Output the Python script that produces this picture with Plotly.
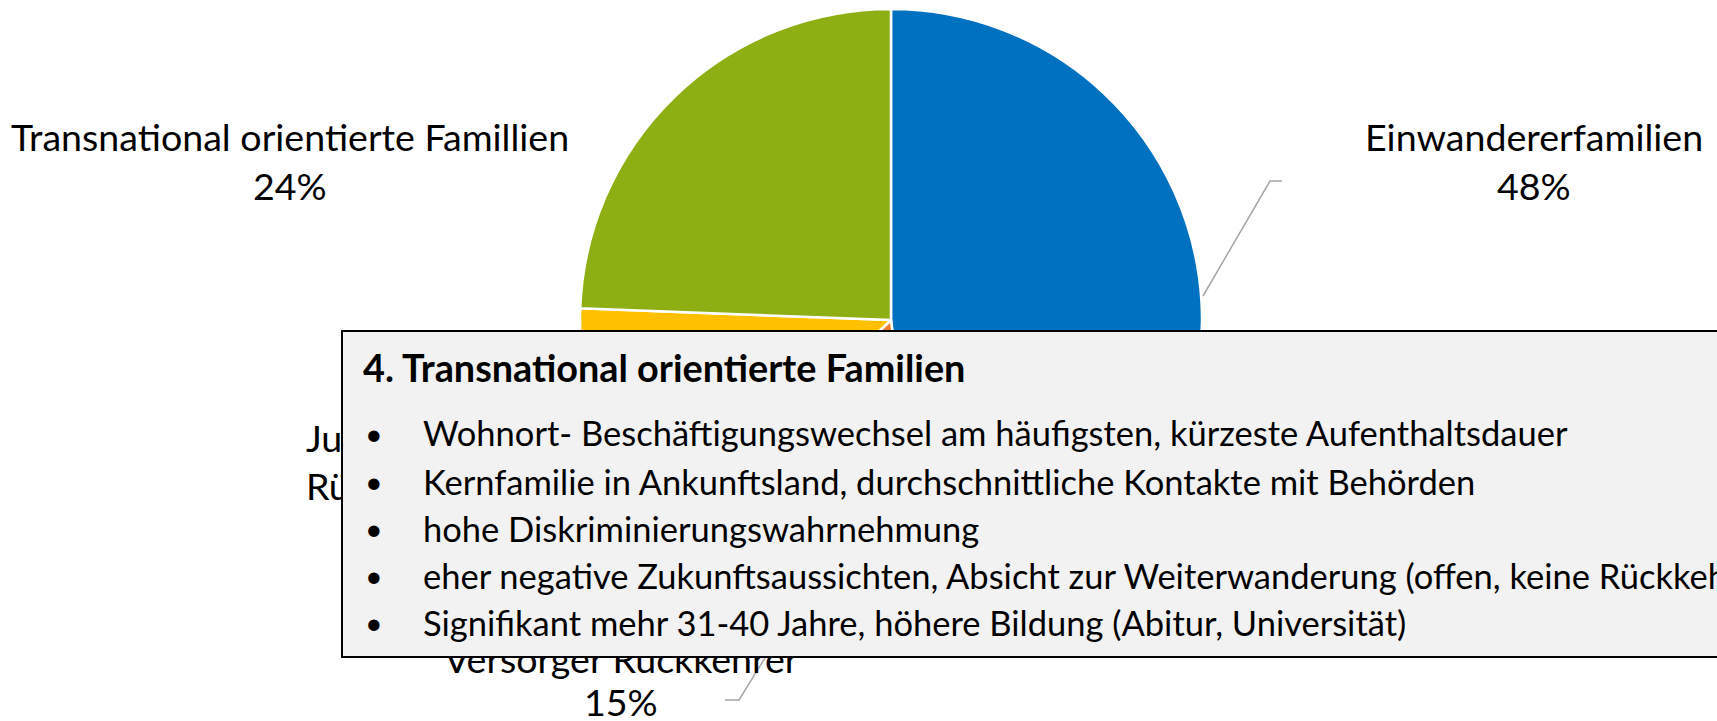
import plotly.graph_objects as go

# ---- data ----
categories = ["Einwandererfamilien", "Versorger Rückkehrer", "Junge Rückkehrer", "Transnational orientierte Famillien"]
values = [48.0, 15.0, 12.6, 24.4]
colors = ["#0070C0", "#ED7D31", "#FFC000", "#8DAF13"]

box_title = "4. Transnational orientierte Familien"
box_bullets = [
    "Wohnort- Beschäftigungswechsel am häufigsten, kürzeste Aufenthaltsdauer",
    "Kernfamilie in Ankunftsland, durchschnittliche Kontakte mit Behörden",
    "hohe Diskriminierungswahrnehmung",
    "eher negative Zukunftsaussichten, Absicht zur Weiterwanderung (offen, keine Rückkehr)",
    "Signifikant mehr 31-40 Jahre, höhere Bildung (Abitur, Universität)",
]

W, H = 1717, 721
FONT = "Lato"


def px(x):
    return x / W


def py(y):
    return 1 - y / H


total = sum(values)
pct = [f"{round(v / total * 100)}%" for v in values]

fig = go.Figure()
fig.add_trace(go.Pie(
    labels=categories, values=values, sort=False, direction="clockwise", rotation=0,
    marker=dict(colors=colors, line=dict(color="white", width=2.5)),
    textinfo="none", showlegend=False, hoverinfo="label+percent",
    domain=dict(x=[px(580), px(1202)], y=[py(631), py(9)]),
))

ann = []
fs_label = 37.6
fs_bullet = 34.5
fs_title = 37.8


def label(text, x, y, anchor="center", bold=False, size=fs_label):
    ann.append(dict(text=f"<b>{text}</b>" if bold else text, x=px(x), y=py(y), xref="paper", yref="paper",
                    xanchor=anchor, yanchor="middle", showarrow=False,
                    font=dict(family=FONT, size=size, color="#000000")))


# pie labels (name line + percent line)
label(categories[3], 290, 136)
label(pct[3], 290, 185)
label(categories[0], 1534, 136)
label(pct[0], 1534, 185)
label("Junge", 304, 438, anchor="left")
label("Rückkehrer", 304, 485, anchor="left")
label(pct[2], 420, 532)
label(categories[1], 621, 658)
label(pct[1], 621, 701)

# overlay box
ann.append(dict(text=" ", x=px(341), y=py(330), xref="paper", yref="paper", xanchor="left", yanchor="top",
                showarrow=False, width=1600, height=324, bgcolor="#F2F2F2", bordercolor="#000000",
                borderwidth=2, borderpad=0, font=dict(size=10)))

label(box_title, 361, 367, anchor="left", bold=True, size=fs_title)
bullet_y = [433, 481, 528, 575, 622]
for t, yy in zip(box_bullets, bullet_y):
    label("•", 363, yy, anchor="left", size=fs_bullet - 4)
    label(t, 421, yy, anchor="left", size=fs_bullet)

shapes = [
    dict(type="path", path=f"M {px(1203)} {py(296)} L {px(1270)} {py(181)} L {px(1282)} {py(181)}",
         xref="paper", yref="paper", line=dict(color="#A6A6A6", width=1.5)),
    dict(type="path", path=f"M {px(765)} {py(658)} L {px(739)} {py(700)} L {px(725)} {py(700)}",
         xref="paper", yref="paper", line=dict(color="#A6A6A6", width=1.5)),
]

fig.update_layout(
    width=W, height=H, margin=dict(l=0, r=0, t=0, b=0),
    paper_bgcolor="white", plot_bgcolor="white",
    annotations=ann, shapes=shapes,
)
fig.write_html("out.html", config={"displayModeBar": False},
               post_script="document.body.style.margin='0';document.body.style.overflow='hidden';")
